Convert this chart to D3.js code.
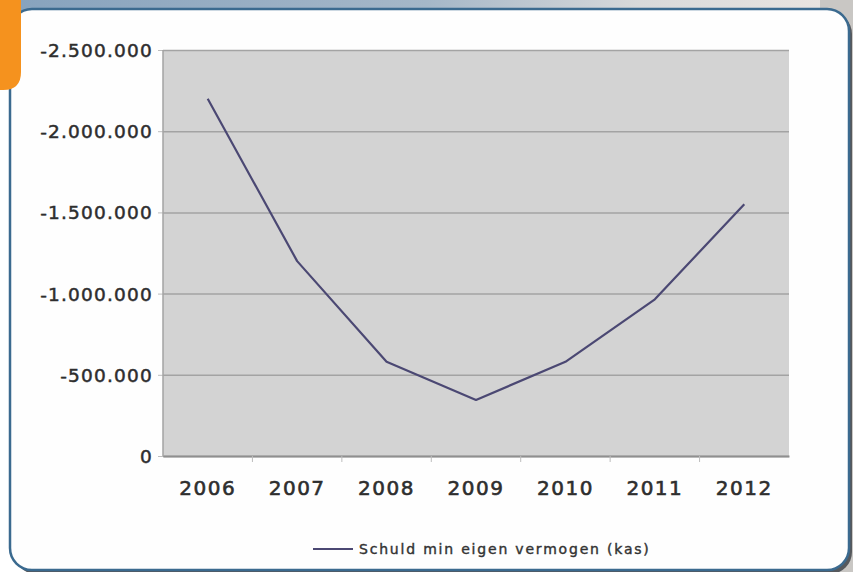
<!DOCTYPE html>
<html>
<head>
<meta charset="utf-8">
<script src="https://d3js.org/d3.v7.min.js"></script>
<style>
  html, body { margin: 0; padding: 0; }
  body { width: 853px; height: 572px; overflow: hidden; background: #fff; }
  svg text { font-family: "DejaVu Sans", sans-serif; }
</style>
</head>
<body>
<div id="chart"></div>
<script>
  const years = ['2006', '2007', '2008', '2009', '2010', '2011', '2012'];
  const schuld = [-2200000, -1200000, -580000, -345000, -580000, -965000, -1550000];
  const yTicks = [0, -500000, -1000000, -1500000, -2000000, -2500000];
  const seriesName = 'Schuld min eigen vermogen (kas)';

  const W = 853, H = 572;
  const plot = { left: 163, top: 50, right: 789, bottom: 456 };

  const svg = d3.select('#chart').append('svg')
      .attr('width', W)
      .attr('height', H);

  // backdrop: photo strip on top, dark shade on the right
  const defs = svg.append('defs');
  const bg = defs.append('linearGradient').attr('id', 'bg').attr('x1', 0).attr('y1', 0).attr('x2', 1).attr('y2', 0);
  bg.append('stop').attr('offset', '0%').attr('stop-color', '#86a2bd');
  bg.append('stop').attr('offset', '50%').attr('stop-color', '#a5b7c8');
  bg.append('stop').attr('offset', '75%').attr('stop-color', '#d8d9da');
  bg.append('stop').attr('offset', '100%').attr('stop-color', '#ece6e2');
  svg.append('rect').attr('width', W).attr('height', 40).attr('fill', 'url(#bg)');
  svg.append('rect').attr('x', 820).attr('y', 0).attr('width', 33).attr('height', H).attr('fill', '#c9c7c4');

  // card shadow + card
  svg.append('rect')
      .attr('x', 14).attr('y', 12).attr('width', 838).attr('height', 562)
      .attr('rx', 22).attr('fill', '#56595d');
  svg.append('rect')
      .attr('x', 10).attr('y', 9).attr('width', 839).attr('height', 561)
      .attr('rx', 22).attr('fill', '#fefefe')
      .attr('stroke', '#3b6a8f').attr('stroke-width', 2.5);

  // orange tab
  svg.append('path')
      .attr('d', 'M0,0 H21 V72 Q21,90 3,90 H0 Z')
      .attr('fill', '#f5921e');

  const x = d3.scaleBand().domain(years).range([plot.left, plot.right]);
  const y = d3.scaleLinear().domain([0, -2500000]).range([plot.bottom, plot.top]);

  // plot area
  svg.append('rect')
      .attr('x', plot.left).attr('y', plot.top)
      .attr('width', plot.right - plot.left).attr('height', plot.bottom - plot.top)
      .attr('fill', '#d3d3d3');

  const fmt = v => v === 0 ? '0' : d3.format(',')(v).replace(/,/g, '.').replace('−', '-');

  // gridlines + y labels
  const yAxis = svg.append('g')
      .attr('transform', `translate(${plot.left},0)`)
      .call(d3.axisLeft(y).tickValues(yTicks).tickSize(-(plot.right - plot.left)).tickPadding(10).tickFormat(fmt));
  yAxis.attr('font-family', null);
  yAxis.select('.domain').remove();
  yAxis.selectAll('.tick line').attr('stroke', '#a3a3a3').attr('stroke-width', 1.5);
  yAxis.selectAll('.tick text')
      .attr('fill', '#2e2e2e')
      .attr('stroke', '#2e2e2e').attr('stroke-width', 0.5)
      .style('font-size', '18.5px')
      .style('letter-spacing', '1.2px')
      .attr('dy', '0.35em');
  yAxis.selectAll('.tick').append('line')
      .attr('x1', -5).attr('x2', 0).attr('stroke', '#bdbdbd');

  // left edge of plot
  svg.append('line')
      .attr('x1', plot.left).attr('x2', plot.left)
      .attr('y1', plot.top).attr('y2', plot.bottom)
      .attr('stroke', '#a3a3a3').attr('stroke-width', 1.5);

  // x axis
  const xAxis = svg.append('g')
      .attr('transform', `translate(0,${plot.bottom})`)
      .call(d3.axisBottom(x).tickSize(0).tickPadding(25));
  xAxis.attr('font-family', null);
  xAxis.select('.domain').attr('stroke', '#8f8f8f').attr('stroke-width', 2);
  xAxis.selectAll('.tick text')
      .attr('fill', '#2e2e2e')
      .attr('stroke', '#2e2e2e').attr('stroke-width', 0.6)
      .style('font-size', '20px')
      .style('letter-spacing', '1.5px');
  xAxis.selectAll('.sep')
      .data(years.slice(1))
      .enter().append('line')
      .attr('x1', d => x(d)).attr('x2', d => x(d))
      .attr('y1', 0).attr('y2', 6)
      .attr('stroke', '#bdbdbd');

  // series line
  const line = d3.line()
      .x((d, i) => x(years[i]) + x.bandwidth() / 2)
      .y(d => y(d));
  svg.append('path')
      .datum(schuld)
      .attr('d', line)
      .attr('fill', 'none')
      .attr('stroke', '#4b4873')
      .attr('stroke-width', 2.2)
      .attr('stroke-linejoin', 'round');

  // legend
  const lg = svg.append('g').attr('transform', 'translate(313,549)');
  lg.append('line').attr('x1', 0).attr('x2', 40).attr('stroke', '#4b4873').attr('stroke-width', 2);
  lg.append('text')
      .attr('x', 46).attr('dy', '0.35em')
      .attr('fill', '#333')
      .attr('stroke', '#333').attr('stroke-width', 0.4)
      .style('font-size', '14px')
      .style('letter-spacing', '1.8px')
      .text(seriesName);
</script>
</body>
</html>
